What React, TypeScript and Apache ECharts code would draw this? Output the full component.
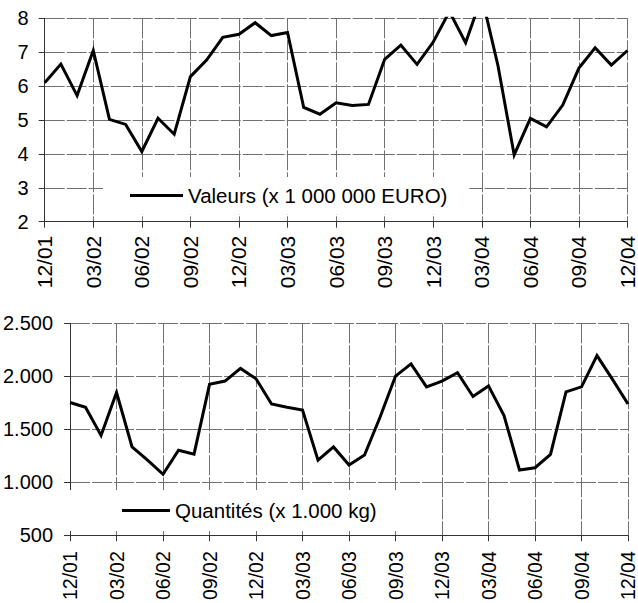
import React, { useEffect, useRef } from "react";
import * as echarts from "echarts";

const months: string[] = [
  "12/01", "01/02", "02/02", "03/02", "04/02", "05/02", "06/02", "07/02", "08/02", "09/02", "10/02", "11/02",
  "12/02", "01/03", "02/03", "03/03", "04/03", "05/03", "06/03", "07/03", "08/03", "09/03", "10/03", "11/03",
  "12/03", "01/04", "02/04", "03/04", "04/04", "05/04", "06/04", "07/04", "08/04", "09/04", "10/04", "11/04",
  "12/04",
];

const valeurs: number[] = [
  6.1, 6.65, 5.72, 7.05, 5.02, 4.87, 4.07, 5.05, 4.58, 6.28, 6.77, 7.44,
  7.53, 7.87, 7.49, 7.58, 5.37, 5.17, 5.51, 5.43, 5.46, 6.79, 7.21, 6.64,
  7.3, 8.2, 7.28, 8.64, 6.6, 3.97, 5.05, 4.8, 5.44, 6.53, 7.13, 6.62,
  7.05,
];

const quantites: number[] = [
  1753, 1707, 1442, 1847, 1333, 1209, 1075, 1302, 1265, 1924, 1955, 2074,
  1977, 1738, 1707, 1682, 1209, 1333, 1162, 1256, 1613, 2002, 2117, 1900,
  1955, 2033, 1809, 1909, 1629, 1115, 1137, 1262, 1853, 1900, 2195, 1971,
  1738,
];

const nameValeurs = "Valeurs (x 1 000 000 EURO)";
const nameQuantites = "Quantités (x 1.000 kg)";

const FONT = "'Liberation Sans', Arial, sans-serif";

export default function App() {
  const ref = useRef<HTMLDivElement>(null);
  useEffect(() => {
    if (!ref.current) return;
    const chart = echarts.init(ref.current, null, { renderer: "svg" });
    const gridLine = { lineStyle: { color: "#707070", width: 1, type: [20, 2] as any } };
    const axisLine = { show: true, lineStyle: { color: "#333", width: 1 } };
    const xAxisBase = (gridIndex: number, fontSize: number, margin: number) => ({
      type: "category" as const,
      gridIndex,
      data: months,
      boundaryGap: false,
      axisLine,
      axisTick: { show: true, interval: 2, length: 6, inside: false, lineStyle: { color: "#333" } },
      splitLine: { show: true, interval: 2, ...gridLine },
      axisLabel: {
        interval: 2,
        rotate: 90,
        margin,
        color: "#000",
        fontSize,
        fontFamily: FONT,
      },
    });
    const option: any = {
      animation: false,
      backgroundColor: "#fff",
      grid: [
        { left: 44.7, right: 7.2, top: 18.3, height: 203.4, containLabel: false },
        { left: 62.7, right: 9.7, top: 323.3, height: 214.3, containLabel: false },
      ],
      xAxis: [xAxisBase(0, 21, 14), xAxisBase(1, 19.5, 16)],
      yAxis: [
        {
          type: "value",
          gridIndex: 0,
          min: 2,
          max: 8,
          interval: 1,
          axisLine,
          axisTick: { show: true, length: 6, lineStyle: { color: "#333" } },
          splitLine: { show: true, ...gridLine },
          axisLabel: { margin: 16, color: "#000", fontSize: 20, fontFamily: FONT },
        },
        {
          type: "value",
          gridIndex: 1,
          min: 500,
          max: 2500,
          interval: 500,
          axisLine,
          axisTick: { show: true, length: 6, lineStyle: { color: "#333" } },
          splitLine: { show: true, ...gridLine },
          axisLabel: {
            margin: 17,
            color: "#000",
            fontSize: 20,
            fontFamily: FONT,
            formatter: (v: number) =>
              v >= 1000 ? `${Math.floor(v / 1000)}.${String(v % 1000).padStart(3, "0")}` : String(v),
          },
        },
      ],
      legend: [
        {
          data: [nameValeurs],
          left: 103,
          top: 177,
          orient: "horizontal",
          backgroundColor: "#fff",
          padding: [8, 22, 8, 27],
          icon: "rect",
          itemWidth: 53,
          itemHeight: 3,
          itemGap: 0,
          selectedMode: false,
          textStyle: { fontSize: 20.5, lineHeight: 20, color: "#000", fontFamily: FONT },
        },
        {
          data: [nameQuantites],
          left: 65,
          top: 490,
          orient: "horizontal",
          backgroundColor: "#fff",
          padding: [10, 40, 10, 57],
          icon: "rect",
          itemWidth: 48,
          itemHeight: 3,
          itemGap: 0,
          selectedMode: false,
          textStyle: { fontSize: 20.5, lineHeight: 20, color: "#000", fontFamily: FONT },
        },
      ],
      series: [
        {
          name: nameValeurs,
          type: "line",
          xAxisIndex: 0,
          yAxisIndex: 0,
          data: valeurs,
          symbol: "none",
          clip: true,
          lineStyle: { color: "#000", width: 3, join: "miter" },
          itemStyle: { color: "#000" },
        },
        {
          name: nameQuantites,
          type: "line",
          xAxisIndex: 1,
          yAxisIndex: 1,
          data: quantites,
          symbol: "none",
          clip: true,
          lineStyle: { color: "#000", width: 3, join: "miter" },
          itemStyle: { color: "#000" },
        },
      ],
    };
    chart.setOption(option);
    return () => chart.dispose();
  }, []);
  return (
    <div
      ref={ref}
      style={{ position: "fixed", left: 0, top: 0, width: 638, height: 603, background: "#fff" }}
    />
  );
}
